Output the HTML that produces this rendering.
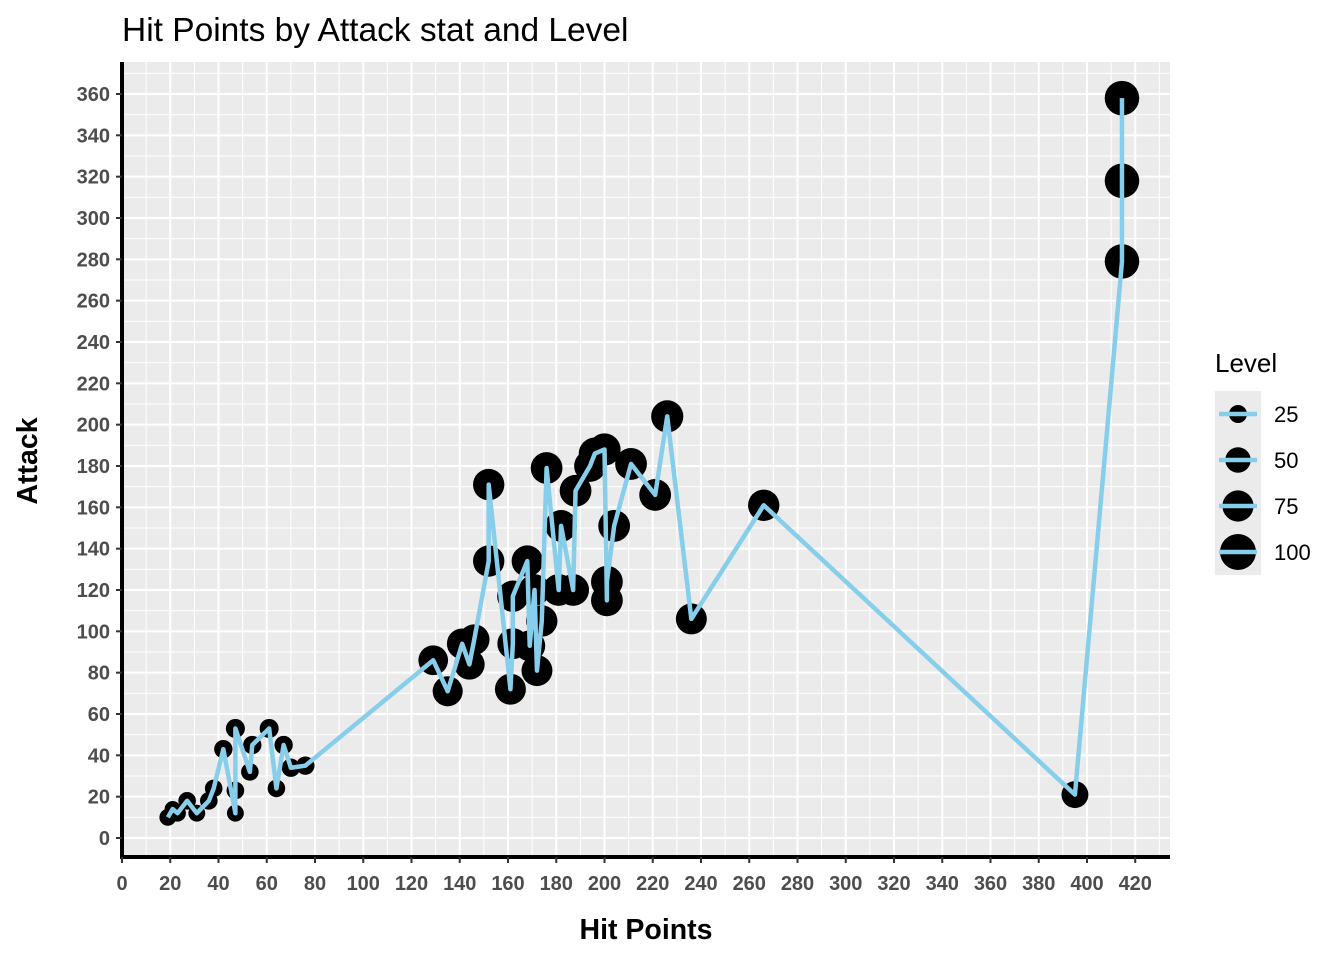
<!DOCTYPE html>
<html><head><meta charset="utf-8"><style>
body{margin:0;background:#fff;font-family:"Liberation Sans",sans-serif}
</style></head><body>
<svg id="c" width="1344" height="960" xmlns="http://www.w3.org/2000/svg" style="font-family:'Liberation Sans',sans-serif"></svg>
<script>
const hp=[19,21,23,27,31,36,38,42,47,47,47,53,54,61,64,67,70,76,129,135,141,144,146,152,152,161,162,162,168,169,171,172,174,176,181,182,187,188,194,196,200,201,201,204,211,221,226,236,266,395,414.5,414.5,414.5];
const atk=[10,14,12,18,12,18,24,43,12,53,23,32,45,53,24,45,34,35,86,71,94,84,96,171,134,72,94,117,134,93,120,81,105,179,120,151,120,168,180,186,188,124,115,151,181,166,204,106,161,21,279,318,358];
const level=[22,20,22,24,22,24,24,26,22,28,24,24,26,28,24,26,26,26,68,70,72,72,72,76,76,74,74,76,76,74,76,74,76,78,78,78,78,78,78,80,80,78,78,78,78,78,80,74,76,56,92,92,92];
const xTicks=[0,20,40,60,80,100,120,140,160,180,200,220,240,260,280,300,320,340,360,380,400,420];
const yTicks=[0,20,40,60,80,100,120,140,160,180,200,220,240,260,280,300,320,340,360];
const legendLevels=[25,50,75,100];
const NS="http://www.w3.org/2000/svg",svg=document.getElementById('c');
const L=122,R=1170,T=62,B=857;
const xs=v=>122+v*2.4125, ys=v=>838-v*2.0667, rs=l=>1.8*Math.sqrt(l);
function el(t,a,p){const e=document.createElementNS(NS,t);for(const k in a)e.setAttribute(k,a[k]);(p||svg).appendChild(e);return e;}
let bg=el('rect',{x:L,y:T,width:R-L,height:B-T,fill:'#EBEBEB'});

const g=el('g',{});
for(let v=-10;v<=430;v+=10){const x=xs(v);if(x<L||x>R)continue;el('line',{x1:x,x2:x,y1:T,y2:B,stroke:'#fff','stroke-width':v%20==0?2:1},g);}
for(let v=-10;v<=370;v+=10){const y=ys(v);if(y<T||y>B)continue;el('line',{x1:L,x2:R,y1:y,y2:y,stroke:'#fff','stroke-width':v%20==0?2:1},g);}
const pts=el('g',{});
hp.forEach((h,i)=>{const c=el('circle',{cx:xs(h),cy:ys(atk[i]),r:rs(level[i]),fill:'#000'},pts);
});
const idx=hp.map((_,i)=>i).sort((a,b)=>hp[a]-hp[b]||atk[a]-atk[b]);
const ln=el('polyline',{points:idx.map(i=>xs(hp[i])+','+ys(atk[i])).join(' '),fill:'none',stroke:'#87CEEB','stroke-width':4.5,'stroke-linejoin':'round'});

const ax=el('g',{});
el('line',{x1:L,x2:L,y1:T,y2:B+2,stroke:'#000','stroke-width':4},ax);
el('line',{x1:L-2,x2:R,y1:B,y2:B,stroke:'#000','stroke-width':4},ax);
xTicks.forEach(v=>{const x=xs(v);el('line',{x1:x,x2:x,y1:B,y2:B+6,stroke:'#333','stroke-width':2},ax);
const t=el('text',{x:x,y:B+33,'text-anchor':'middle','font-size':20,'font-weight':'bold',fill:'#4d4d4d'},ax);t.textContent=v;
});
yTicks.forEach(v=>{const y=ys(v);el('line',{x1:L-6,x2:L,y1:y,y2:y,stroke:'#333','stroke-width':2},ax);
const t=el('text',{x:L-12,y:y+7,'text-anchor':'end','font-size':20,'font-weight':'bold',fill:'#4d4d4d'},ax);t.textContent=v;
});
let t=el('text',{x:646,y:939,'text-anchor':'middle','font-size':28.5,'font-weight':'bold'});t.textContent='Hit Points';

t=el('text',{x:37,y:461,'text-anchor':'middle','font-size':28.5,'font-weight':'bold',transform:'rotate(-90 37 461)'});t.textContent='Attack';

t=el('text',{x:122,y:41,'font-size':33.5});t.textContent='Hit Points by Attack stat and Level';

const lg=el('g',{});
t=el('text',{x:1215,y:372,'font-size':26},lg);t.textContent='Level';

legendLevels.forEach((lv,i)=>{const cy=414+i*46;
const e=el('g',{},lg);
el('rect',{x:1215,y:cy-23,width:46,height:46,fill:'#EBEBEB'},e);
el('circle',{cx:1238,cy:cy,r:rs(lv),fill:'#000'},e);
el('line',{x1:1219,x2:1257,y1:cy,y2:cy,stroke:'#87CEEB','stroke-width':4.5},e);
const tt=el('text',{x:1274,y:cy+8,'font-size':22},e);tt.textContent=lv;});
</script>
</body></html>
